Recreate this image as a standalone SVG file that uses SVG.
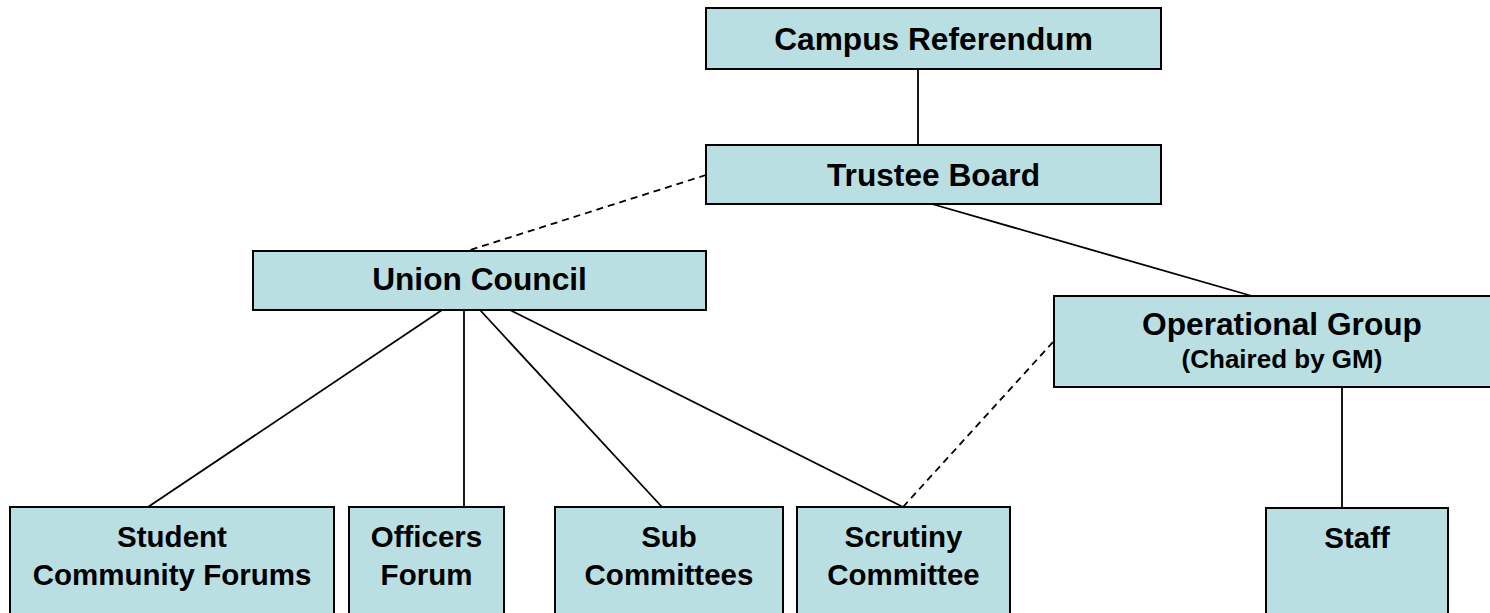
<svg xmlns="http://www.w3.org/2000/svg" width="1490" height="613" viewBox="0 0 1490 613">
  <style>
    .box { fill: #B9DFE3; stroke: #000; stroke-width: 2; }
    .lbl { font-family: "Liberation Sans", Arial, sans-serif; font-weight: bold; fill: #000; text-anchor: middle; }
    .big { font-size: 31.7px; }
    .mid { font-size: 29.5px; }
    .small { font-size: 26px; }
    .link { stroke: #000; stroke-width: 1.8; fill: none; }
    .dash { stroke: #000; stroke-width: 1.8; fill: none; stroke-dasharray: 7 5; }
  </style>
  <rect width="1490" height="613" fill="#fff"/>

  <g id="connectors">
    <line class="link" x1="918" y1="69" x2="918" y2="145"/>
    <line class="dash" x1="706" y1="175" x2="467" y2="251"/>
    <line class="link" x1="932" y1="204" x2="1252" y2="296"/>
    <line class="link" x1="442" y1="310" x2="148" y2="507"/>
    <line class="link" x1="464" y1="310" x2="464" y2="507"/>
    <line class="link" x1="480" y1="310" x2="662" y2="507"/>
    <line class="link" x1="510" y1="310" x2="903" y2="507"/>
    <line class="dash" x1="1053" y1="342" x2="903" y2="507"/>
    <line class="link" x1="1342" y1="387" x2="1342" y2="508"/>
  </g>

  <g id="campus-referendum">
    <rect class="box" x="706" y="8" width="455" height="61"/>
    <text class="lbl big" x="933.5" y="50">Campus Referendum</text>
  </g>

  <g id="trustee-board">
    <rect class="box" x="706" y="145" width="455" height="59"/>
    <text class="lbl big" x="933.5" y="186">Trustee Board</text>
  </g>

  <g id="union-council">
    <rect class="box" x="253" y="251" width="453" height="59"/>
    <text class="lbl big" x="479.5" y="290">Union Council</text>
  </g>

  <g id="operational-group">
    <rect class="box" x="1054" y="296" width="456" height="91"/>
    <text class="lbl big" x="1282" y="335">Operational Group</text>
    <text class="lbl small" x="1282" y="368">(Chaired by GM)</text>
  </g>

  <g id="student-community-forums">
    <rect class="box" x="10" y="507" width="324" height="120"/>
    <text class="lbl mid" x="172" y="547">Student</text>
    <text class="lbl mid" x="172" y="585">Community Forums</text>
  </g>

  <g id="officers-forum">
    <rect class="box" x="349" y="507" width="155" height="120"/>
    <text class="lbl mid" x="426.5" y="547">Officers</text>
    <text class="lbl mid" x="426.5" y="585">Forum</text>
  </g>

  <g id="sub-committees">
    <rect class="box" x="555" y="507" width="228" height="120"/>
    <text class="lbl mid" x="669" y="547">Sub</text>
    <text class="lbl mid" x="669" y="585">Committees</text>
  </g>

  <g id="scrutiny-committee">
    <rect class="box" x="797" y="507" width="213" height="120"/>
    <text class="lbl mid" x="903.5" y="547">Scrutiny</text>
    <text class="lbl mid" x="903.5" y="585">Committee</text>
  </g>

  <g id="staff">
    <rect class="box" x="1266" y="508" width="182" height="120"/>
    <text class="lbl mid" x="1357" y="548">Staff</text>
  </g>
</svg>
